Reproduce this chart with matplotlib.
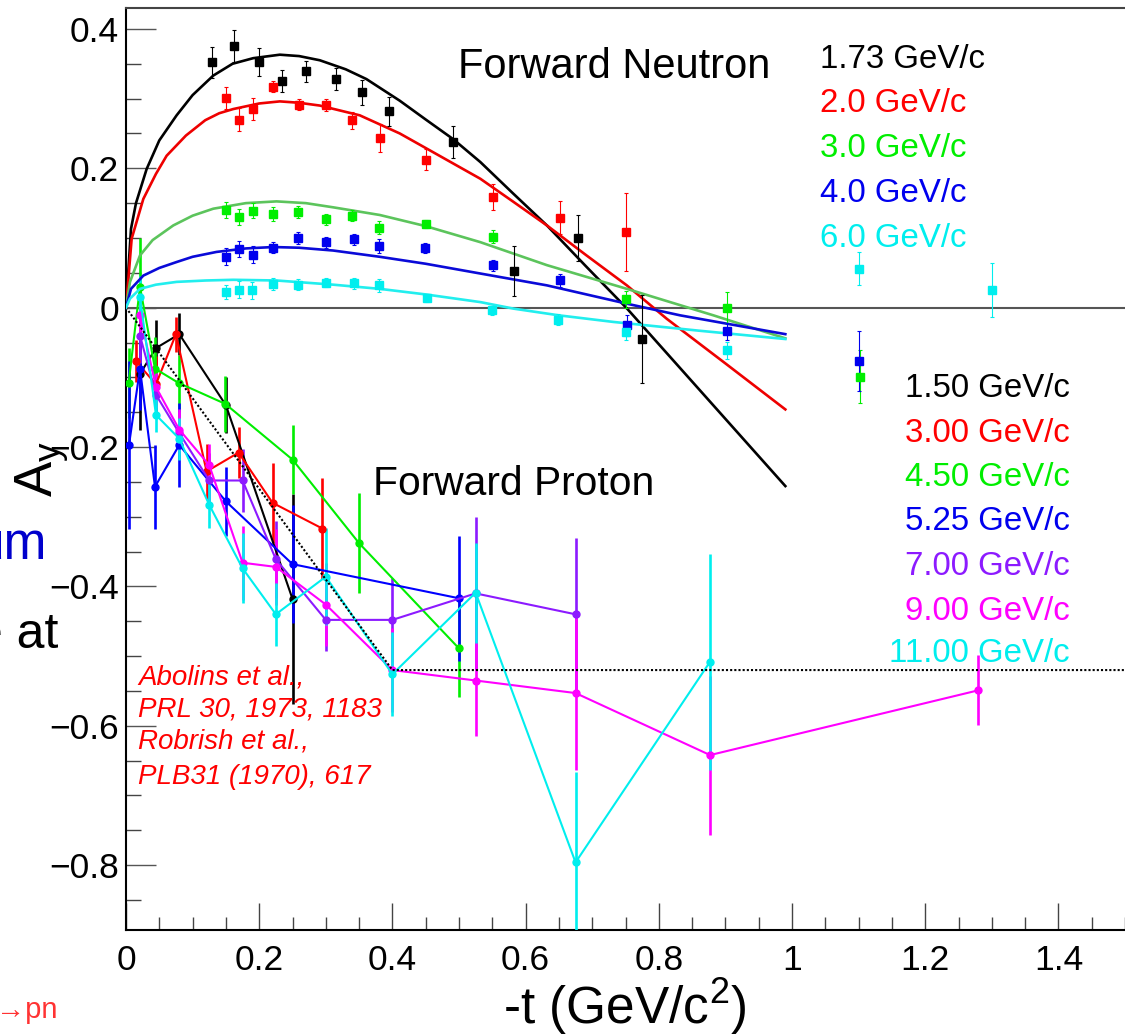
import matplotlib
matplotlib.use("Agg")
import matplotlib.pyplot as plt
from matplotlib.ticker import MultipleLocator

plt.rcParams['font.family'] = ['Liberation Sans', 'DejaVu Sans']
plt.rcParams['mathtext.fontset'] = 'custom'
plt.rcParams['mathtext.rm'] = 'Liberation Sans'
plt.rcParams['mathtext.it'] = 'Liberation Sans:italic'

# ---------------- data: forward neutron (squares) ----------------
n173_x = [0.129, 0.162, 0.199, 0.234, 0.271, 0.315, 0.355, 0.395, 0.491, 0.582, 0.679, 0.775]
n173_y = [0.352, 0.376, 0.353, 0.325, 0.339, 0.328, 0.309, 0.282, 0.238, 0.053, 0.100, -0.045]
n173_e = [0.022, 0.023, 0.020, 0.016, 0.015, 0.016, 0.018, 0.021, 0.023, 0.036, 0.033, 0.063]

n20_x = [0.150, 0.170, 0.190, 0.220, 0.260, 0.301, 0.340, 0.381, 0.451, 0.551, 0.652, 0.751]
n20_y = [0.301, 0.270, 0.285, 0.317, 0.291, 0.291, 0.269, 0.243, 0.212, 0.159, 0.129, 0.109]
n20_e = [0.016, 0.017, 0.016, 0.008, 0.008, 0.009, 0.012, 0.020, 0.015, 0.019, 0.024, 0.056]

n30_x = [0.150, 0.170, 0.190, 0.220, 0.259, 0.300, 0.340, 0.380, 0.451, 0.551, 0.751, 0.902, 1.102]
n30_y = [0.140, 0.130, 0.139, 0.135, 0.137, 0.127, 0.132, 0.115, 0.120, 0.102, 0.012, 0.000, -0.099]
n30_e = [0.011, 0.012, 0.011, 0.010, 0.009, 0.008, 0.008, 0.010, 0.006, 0.009, 0.012, 0.022, 0.038]

n40_x = [0.150, 0.170, 0.191, 0.220, 0.259, 0.301, 0.342, 0.380, 0.449, 0.551, 0.651, 0.752, 0.902, 1.101]
n40_y = [0.073, 0.084, 0.076, 0.086, 0.100, 0.094, 0.098, 0.089, 0.086, 0.061, 0.039, -0.025, -0.034, -0.076]
n40_e = [0.012, 0.012, 0.012, 0.008, 0.008, 0.008, 0.008, 0.010, 0.007, 0.008, 0.010, 0.015, 0.012, 0.043]

n60_x = [0.150, 0.170, 0.189, 0.220, 0.259, 0.300, 0.342, 0.380, 0.452, 0.550, 0.649, 0.750, 0.902, 1.101, 1.301]
n60_y = [0.023, 0.026, 0.025, 0.034, 0.033, 0.036, 0.035, 0.032, 0.014, -0.004, -0.017, -0.035, -0.061, 0.056, 0.025]
n60_e = [0.010, 0.012, 0.012, 0.008, 0.008, 0.007, 0.008, 0.009, 0.006, 0.006, 0.008, 0.012, 0.012, 0.024, 0.039]

# model curves (forward neutron)
c173_x = [0, 0.0075, 0.015, 0.031, 0.05, 0.076, 0.10, 0.131, 0.16, 0.191, 0.231, 0.26, 0.291, 0.33,
          0.361, 0.411, 0.45, 0.491, 0.532, 0.58, 0.632, 0.69, 0.752, 0.99]
c173_y = [0, 0.113, 0.150, 0.199, 0.240, 0.276, 0.305, 0.333, 0.350, 0.358, 0.363, 0.361, 0.355, 0.342,
          0.328, 0.297, 0.270, 0.242, 0.209, 0.165, 0.118, 0.060, -0.001, -0.256]
c20_x = [0, 0.0085, 0.026, 0.045, 0.061, 0.09, 0.119, 0.14, 0.161, 0.20, 0.231, 0.26, 0.291, 0.351,
         0.411, 0.452, 0.532, 0.58, 0.632, 0.69, 0.752, 0.812, 0.90, 0.99]
c20_y = [0, 0.099, 0.156, 0.192, 0.218, 0.247, 0.269, 0.279, 0.285, 0.293, 0.296, 0.294, 0.290, 0.276,
         0.250, 0.228, 0.185, 0.153, 0.118, 0.076, 0.032, -0.016, -0.080, -0.146]
c30_x = [0, 0.006, 0.021, 0.04, 0.071, 0.10, 0.131, 0.18, 0.226, 0.27, 0.311, 0.381, 0.45, 0.532,
         0.632, 0.752, 0.882, 0.99]
c30_y = [0, 0.037, 0.075, 0.097, 0.118, 0.132, 0.142, 0.150, 0.1525, 0.150, 0.144, 0.133, 0.117, 0.094,
         0.061, 0.027, -0.011, -0.044]
c40_x = [0, 0.0075, 0.026, 0.05, 0.076, 0.10, 0.136, 0.18, 0.221, 0.26, 0.311, 0.381, 0.45, 0.532,
         0.632, 0.752, 0.832, 0.99]
c40_y = [0, 0.027, 0.046, 0.057, 0.0655, 0.073, 0.080, 0.085, 0.087, 0.086, 0.082, 0.073, 0.063, 0.049,
         0.032, 0.0057, -0.011, -0.038]
c60_x = [0, 0.006, 0.021, 0.045, 0.076, 0.12, 0.161, 0.226, 0.311, 0.381, 0.45, 0.532, 0.582, 0.65,
         0.732, 0.86, 0.99]
c60_y = [0, 0.013, 0.027, 0.033, 0.037, 0.039, 0.040, 0.039, 0.033, 0.027, 0.019, 0.008, -0.0014, -0.011,
         -0.0205, -0.033, -0.045]

# ---------------- data: forward proton (circles) ----------------
p150_x = [0.021, 0.045, 0.080, 0.150, 0.250]
p150_y = [-0.095, -0.058, -0.038, -0.140, -0.418]
p150_e = [0.08, 0.04, 0.03, 0.04, 0.15]

p300_x = [0.015, 0.045, 0.075, 0.121, 0.169, 0.220, 0.295]
p300_y = [-0.077, -0.110, -0.038, -0.235, -0.208, -0.280, -0.317]
p300_e = [0.03, 0.04, 0.025, 0.04, 0.037, 0.057, 0.073]

p450_x = [0.004, 0.021, 0.0435, 0.079, 0.149, 0.250, 0.350, 0.500]
p450_y = [-0.108, 0.030, -0.0875, -0.108, -0.138, -0.218, -0.338, -0.489]
p450_e = [0.05, 0.07, 0.045, 0.04, 0.04, 0.05, 0.072, 0.07]

p525_x = [0.0045, 0.021, 0.0435, 0.080, 0.150, 0.250, 0.500]
p525_y = [-0.197, -0.0875, -0.257, -0.197, -0.278, -0.368, -0.417]
p525_e = [0.12, 0.06, 0.06, 0.06, 0.05, 0.085, 0.09]

p700_x = [0.021, 0.045, 0.080, 0.125, 0.175, 0.225, 0.300, 0.400, 0.525, 0.675]
p700_y = [-0.040, -0.125, -0.180, -0.248, -0.248, -0.361, -0.448, -0.448, -0.410, -0.440]
p700_e = [0.04, 0.03, 0.03, 0.04, 0.045, 0.055, 0.045, 0.06, 0.11, 0.11]

p900_x = [0.021, 0.045, 0.080, 0.125, 0.175, 0.225, 0.300, 0.400, 0.525, 0.675, 0.877, 1.280]
p900_y = [-0.010, -0.114, -0.175, -0.226, -0.366, -0.372, -0.426, -0.520, -0.535, -0.553, -0.642, -0.549]
p900_e = [0.03, 0.03, 0.03, 0.03, 0.053, 0.055, 0.06, 0.06, 0.08, 0.11, 0.114, 0.05]

p1100_x = [0.021, 0.045, 0.080, 0.125, 0.175, 0.225, 0.300, 0.400, 0.525, 0.675, 0.877]
p1100_y = [0.015, -0.154, -0.188, -0.283, -0.374, -0.440, -0.386, -0.526, -0.409, -0.796, -0.508]
p1100_e = [0.03, 0.025, 0.03, 0.033, 0.05, 0.045, 0.07, 0.06, 0.072, 0.13, 0.155]

# dotted reference line
ref_x = [0.0, 0.4, 1.5]
ref_y = [0.0, -0.52, -0.52]

neutron_labels = ["1.73 GeV/c", "2.0 GeV/c", "3.0 GeV/c", "4.0 GeV/c", "6.0 GeV/c"]
proton_labels = ["1.50 GeV/c", "3.00 GeV/c", "4.50 GeV/c", "5.25 GeV/c", "7.00 GeV/c", "9.00 GeV/c", "11.00 GeV/c"]
citation = ["Abolins et al.,", "PRL 30, 1973, 1183", "Robrish et al.,", "PLB31 (1970), 617"]
x_ticks = [0, 0.2, 0.4, 0.6, 0.8, 1.0, 1.2, 1.4]
x_ticklabels = ["0", "0.2", "0.4", "0.6", "0.8", "1", "1.2", "1.4"]
y_ticks = [-0.8, -0.6, -0.4, -0.2, 0, 0.2, 0.4]
y_ticklabels = ["\u22120.8", "\u22120.6", "\u22120.4", "\u22120.2", "0", "0.2", "0.4"]

# ---------------- figure ----------------
W, H = 1125, 1036
fig = plt.figure(figsize=(W / 100, H / 100), dpi=100)
ax = fig.add_axes([126 / W, 1 - 930 / H, 1 - 126 / W, (930 - 8) / H])
ax.set_xlim(0, 1.5)
ax.set_ylim(-0.893, 0.43)

def fx(px):
    return px / W

def fy(py):
    return 1 - py / H

# proton series
p_cols = ['black', '#ff0000', '#00ee00', '#0000ff', '#8c1aff', '#ff00ff', '#00eeee']
p_sets = [(p150_x, p150_y, p150_e), (p300_x, p300_y, p300_e), (p450_x, p450_y, p450_e),
          (p525_x, p525_y, p525_e), (p700_x, p700_y, p700_e), (p900_x, p900_y, p900_e),
          (p1100_x, p1100_y, p1100_e)]
for (xs, ys, es), c in zip(p_sets, p_cols):
    ax.errorbar(xs, ys, yerr=es, fmt='-o', color=c, ms=5, lw=1.5,
                elinewidth=1.9, capsize=0, zorder=3)

ax.plot(ref_x, ref_y, color='black', ls=(0, (1, 1)), lw=1.5, zorder=4)

# zero line
ax.axhline(0, color='#555555', lw=1.5, zorder=2)

# neutron curves
n_curve_cols = ['black', '#ee0000', '#5cc45c', '#0a0ad8', '#22eeee']
for xs, ys, c in zip([c173_x, c20_x, c30_x, c40_x, c60_x],
                     [c173_y, c20_y, c30_y, c40_y, c60_y], n_curve_cols):
    ax.plot(xs, ys, color=c, lw=1.9, zorder=5, solid_joinstyle='round')

n_pt_cols = ['black', '#ff0000', '#00ee00', '#0000ee', '#00eeee']
for (xs, ys, es), c in zip([(n173_x, n173_y, n173_e), (n20_x, n20_y, n20_e), (n30_x, n30_y, n30_e),
                            (n40_x, n40_y, n40_e), (n60_x, n60_y, n60_e)], n_pt_cols):
    ax.errorbar(xs, ys, yerr=es, fmt='s', color=c, ms=5.8, elinewidth=0.8,
                ecolor=c, capsize=1.5, capthick=0.8, zorder=6)

# axes styling (ROOT-like)
for s in ['left', 'bottom']:
    ax.spines[s].set_color('black')
    ax.spines[s].set_linewidth(1.5)
ax.spines['top'].set_color('#444444')
ax.spines['top'].set_linewidth(1.5)
ax.spines['right'].set_visible(False)

ax.set_xticks(x_ticks)
ax.set_xticklabels(x_ticklabels)
ax.set_yticks(y_ticks)
ax.set_yticklabels(y_ticklabels)
ax.xaxis.set_minor_locator(MultipleLocator(0.05))
ax.yaxis.set_minor_locator(MultipleLocator(0.05))
ax.tick_params(axis='x', which='major', direction='in', length=19.5, width=1, color='#444444',
               labelsize=25.5, pad=10, top=False)
ax.tick_params(axis='x', which='minor', direction='in', length=9.5, width=1, color='#444444', top=False)
ax.tick_params(axis='y', which='major', direction='in', length=21.5, width=1, color='#555555',
               labelsize=25.5, pad=5, right=False)
ax.tick_params(axis='y', which='minor', direction='in', length=10.5, width=1, color='#444444', right=False)

# titles inside
fig.text(fx(458), fy(78), "Forward Neutron", fontsize=30, va='baseline', ha='left')
fig.text(fx(373), fy(495), "Forward Proton", fontsize=29.3, va='baseline', ha='left')

n_base = [68, 112, 157, 202, 247]
for lab, c, b in zip(neutron_labels, n_pt_cols, n_base):
    fig.text(fx(820), fy(b), lab, color=c, fontsize=23.8, va='baseline', ha='left')

p_base = [397, 442, 486, 530, 575, 620, 662]
p_txt_cols = ['black', '#ff0000', '#00ee00', '#0000ee', '#8c1aff', '#ff00ff', '#00eeee']
for lab, c, b in zip(proton_labels, p_txt_cols, p_base):
    fig.text(fx(1070), fy(b), lab, color=c, fontsize=23.8, va='baseline', ha='right')

c_base = [684, 717, 749, 784]
for lab, b in zip(citation, c_base):
    fig.text(fx(138), fy(b), lab, color='#ff0000', fontsize=20, style='italic',
             va='baseline', ha='left')

# axis titles
fig.text(fx(625), fy(1024), r"-t (GeV/c$^{2}$)", fontsize=37, va='baseline', ha='center')
fig.text(fx(42), fy(469), r"$\mathrm{A}_{\mathrm{y}}$", fontsize=38, rotation=90,
         va='center', ha='center')

# cropped text fragments at the left edge (as in the reference image)
fig.text(fx(47), fy(560), "um", color='#0000cc', fontsize=37, va='baseline', ha='right')
fig.text(fx(58), fy(648), "e at", color='black', fontsize=36, va='baseline', ha='right')
fig.text(fx(57), fy(1018), "\u2192pn", color='#ff3333', fontsize=21, va='baseline', ha='right')

fig.savefig("out.png", dpi=100)
